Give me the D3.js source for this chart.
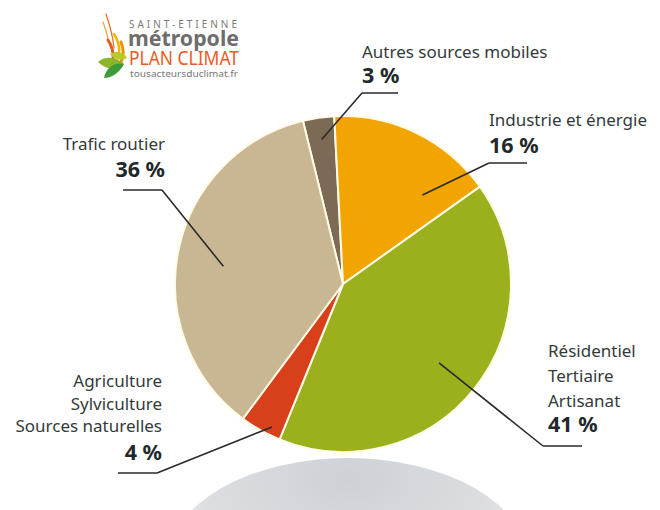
<!DOCTYPE html>
<html>
<head>
<meta charset="utf-8">
<script src="https://cdn.jsdelivr.net/npm/d3@7"></script>
<style>
  body { margin: 0; background: #fff; }
  svg { display: block; }
  text { font-family: "Noto Sans", "Open Sans", sans-serif; fill: #333a3a; }
</style>
</head>
<body>
<div id="chart"></div>
<script>
// data
const categories = ["Autres sources mobiles", "Industrie et énergie", "Résidentiel Tertiaire Artisanat",
  "Agriculture Sylviculture Sources naturelles", "Trafic routier"];
const labelLines = [["Autres sources mobiles"], ["Industrie et énergie"], ["Résidentiel", "Tertiaire", "Artisanat"],
  ["Agriculture", "Sylviculture", "Sources naturelles"], ["Trafic routier"]];
const shares = [3, 16, 41, 4, 36];
const colors = ["#7d6a55", "#f2a500", "#9bb01c", "#d8401c", "#c9b693"];

// label layout (annotation positions)
const labelLayout = [
  { x: 362, anchor: "start", y0: 58, dy: 24, pctY: 83, line: [362, 398, 93], da: 0, rf: 0.87 },
  { x: 489, anchor: "start", y0: 126, dy: 24, pctY: 153, line: [489, 527, 163], da: 16, rf: 0.71 },
  { x: 548, anchor: "start", y0: 357, dy: 25, pctY: 432, line: [543, 582, 446], da: 1, rf: 0.74 },
  { x: 162, anchor: "end", y0: 387, dy: 22.5, pctY: 460, line: [118, 157, 473], da: -3, rf: 0.95 },
  { x: 165, anchor: "end", y0: 150, dy: 24, pctY: 177, line: [123, 162, 190], da: -3, rf: 0.72 }
];

const W = 660, H = 510;
const cx = 343, cy = 284, R = 168;
const startDeg = -13.8;

const svg = d3.select("#chart").append("svg").attr("width", W).attr("height", H);
const defs = svg.append("defs");

// shadow under the pie
const rg = defs.append("radialGradient").attr("id", "shadow")
  .attr("cx", "50%").attr("cy", "10%").attr("r", "75%");
rg.append("stop").attr("offset", "0%").attr("stop-color", "#cdd1d6");
rg.append("stop").attr("offset", "55%").attr("stop-color", "#dcdee1");
rg.append("stop").attr("offset", "100%").attr("stop-color", "#ffffff");
svg.append("ellipse").attr("cx", 348).attr("cy", 562).attr("rx", 180).attr("ry", 104)
  .attr("fill", "url(#shadow)");

// logo
const logo = svg.append("g");
const leaf = [
  { d: "M103,22 C106,30 108,38 110,46", c: "#f0a030", w: 1.2 },
  { d: "M106,14 C110,26 113,36 114,48", c: "#ea6a2a", w: 1.2 },
  { d: "M114,34 C118,40 120,46 119,54", c: "#f5b400", w: 2.5 },
  { d: "M108,40 C112,46 114,52 113,60", c: "#e85a1e", w: 3 },
  { d: "M121,42 C124,50 124,56 121,62", c: "#f29100", w: 3 }
];
leaf.forEach(p => logo.append("path").attr("d", p.d).attr("fill", "none")
  .attr("stroke", p.c).attr("stroke-width", p.w).attr("stroke-linecap", "round"));
logo.append("path").attr("d", "M98,62 C104,56 116,56 124,64 C116,70 106,70 98,62 Z").attr("fill", "#8cb62a");
logo.append("path").attr("d", "M104,78 C106,68 114,62 124,64 C120,72 112,78 104,78 Z").attr("fill", "#3f9a3a");
logo.append("path").attr("d", "M110,54 C116,50 124,52 127,58 C121,61 114,60 110,54 Z").attr("fill", "#b8c92a");
logo.append("text").attr("x", 129).attr("y", 28).attr("font-size", 10).attr("letter-spacing", 2)
  .style("fill", "#7a7a7a").attr("textLength", 110).text("SAINT-ETIENNE");
logo.append("text").attr("x", 128).attr("y", 46).attr("font-size", 21).attr("font-weight", "bold")
  .style("fill", "#6d6d6d").attr("textLength", 111).attr("lengthAdjust", "spacingAndGlyphs").text("métropole");
logo.append("text").attr("x", 129).attr("y", 65).attr("font-size", 19)
  .style("fill", "#ec5a22").attr("textLength", 110).attr("lengthAdjust", "spacingAndGlyphs").text("PLAN CLIMAT");
logo.append("text").attr("x", 130).attr("y", 77).attr("font-size", 9)
  .style("fill", "#777").attr("textLength", 108).attr("lengthAdjust", "spacingAndGlyphs").text("tousacteursduclimat.fr");

// pie
const rad = d => d * Math.PI / 180;
const pie = d3.pie().sort(null).value(d => d)
  .startAngle(rad(startDeg)).endAngle(rad(startDeg) + 2 * Math.PI);
const arcs = pie(shares);
const arc = d3.arc().innerRadius(0).outerRadius(R);

const g = svg.append("g").attr("transform", `translate(${cx},${cy})`);
g.selectAll("path.slice").data(arcs).join("path")
  .attr("class", "slice")
  .attr("d", arc)
  .attr("fill", (d, i) => colors[i])
  .attr("stroke", "#fffbe6")
  .attr("stroke-width", 2);

// labels and leader lines
arcs.forEach((a, i) => {
  const L = labelLayout[i];
  const mid = (a.startAngle + a.endAngle) / 2 + rad(L.da);
  const px = cx + Math.sin(mid) * R * L.rf;
  const py = cy - Math.cos(mid) * R * L.rf;
  const [x1, x2, ly] = L.line;
  const elbowX = L.anchor === "end" ? x2 : x1;
  svg.append("path")
    .attr("d", `M${px},${py} L${elbowX},${ly} M${x1},${ly} L${x2},${ly}`)
    .attr("fill", "none").attr("stroke", "#2b2b2b").attr("stroke-width", 1.6);

  labelLines[i].forEach((t, k) => {
    svg.append("text").attr("x", L.x).attr("y", L.y0 + k * L.dy)
      .attr("text-anchor", L.anchor).attr("font-size", 17).text(t);
  });
  svg.append("text").attr("x", L.x).attr("y", L.pctY)
    .attr("text-anchor", L.anchor).attr("font-size", 21.5).attr("font-weight", "bold")
    .style("fill", "#22282a").text(shares[i] + " %");
});
</script>
</body>
</html>
